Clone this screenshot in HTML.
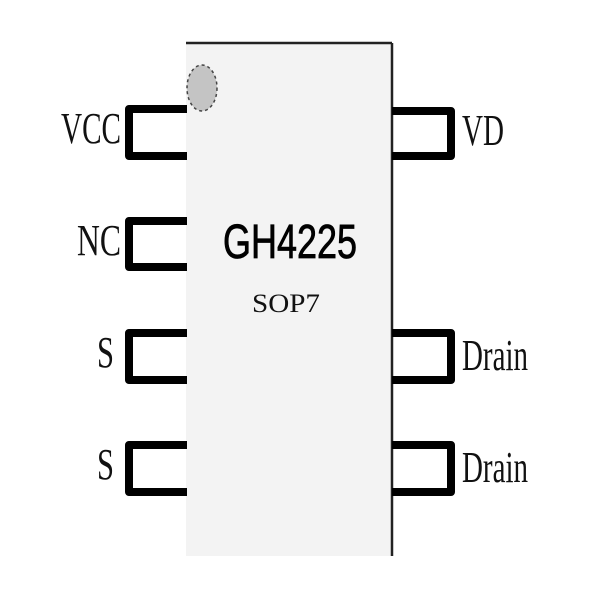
<!DOCTYPE html>
<html><head><style>body{margin:0;background:#fff}svg{display:block}</style></head><body>
<svg width="600" height="600" viewBox="0 0 600 600" xmlns="http://www.w3.org/2000/svg">
<rect x="186" y="43" width="206" height="513" fill="#f3f3f3"/>
<line x1="186" y1="43" x2="392" y2="43" stroke="#222" stroke-width="2.5"/>
<line x1="392" y1="43" x2="392" y2="556" stroke="#222" stroke-width="2.5"/>
<ellipse cx="202" cy="88" rx="15" ry="23" fill="#c4c4c4" stroke="#444" stroke-width="1.5" stroke-dasharray="3 3"/>
<g fill="none" stroke="#000" stroke-width="8" stroke-linejoin="round">
<polyline points="187,109 129,109 129,156 187,156"/>
<polyline points="187,221 129,221 129,267 187,267"/>
<polyline points="187,333 129,333 129,380 187,380"/>
<polyline points="187,445 129,445 129,492 187,492"/>
<polyline points="392,111 451,111 451,156 392,156"/>
<polyline points="392,333 451,333 451,380 392,380"/>
<polyline points="392,445 451,445 451,492 392,492"/>
</g>
<g font-family="Liberation Serif, serif" font-size="44" fill="#111">
<text x="61" y="143" textLength="60" lengthAdjust="spacingAndGlyphs">VCC</text>
<text x="77" y="255" textLength="44" lengthAdjust="spacingAndGlyphs">NC</text>
<text x="97" y="367" textLength="17" lengthAdjust="spacingAndGlyphs">S</text>
<text x="97" y="479" textLength="17" lengthAdjust="spacingAndGlyphs">S</text>
<text x="462" y="145" textLength="42" lengthAdjust="spacingAndGlyphs">VD</text>
<text x="462" y="370" textLength="66" lengthAdjust="spacingAndGlyphs">Drain</text>
<text x="462" y="482" textLength="66" lengthAdjust="spacingAndGlyphs">Drain</text>
<text x="252" y="312" textLength="68" lengthAdjust="spacingAndGlyphs" font-size="26">SOP7</text>
</g>
<text x="223" y="258" font-family="Liberation Sans, sans-serif" font-size="48" fill="#000" stroke="#000" stroke-width="0.8" textLength="134" lengthAdjust="spacingAndGlyphs">GH4225</text>
</svg>
</body></html>
